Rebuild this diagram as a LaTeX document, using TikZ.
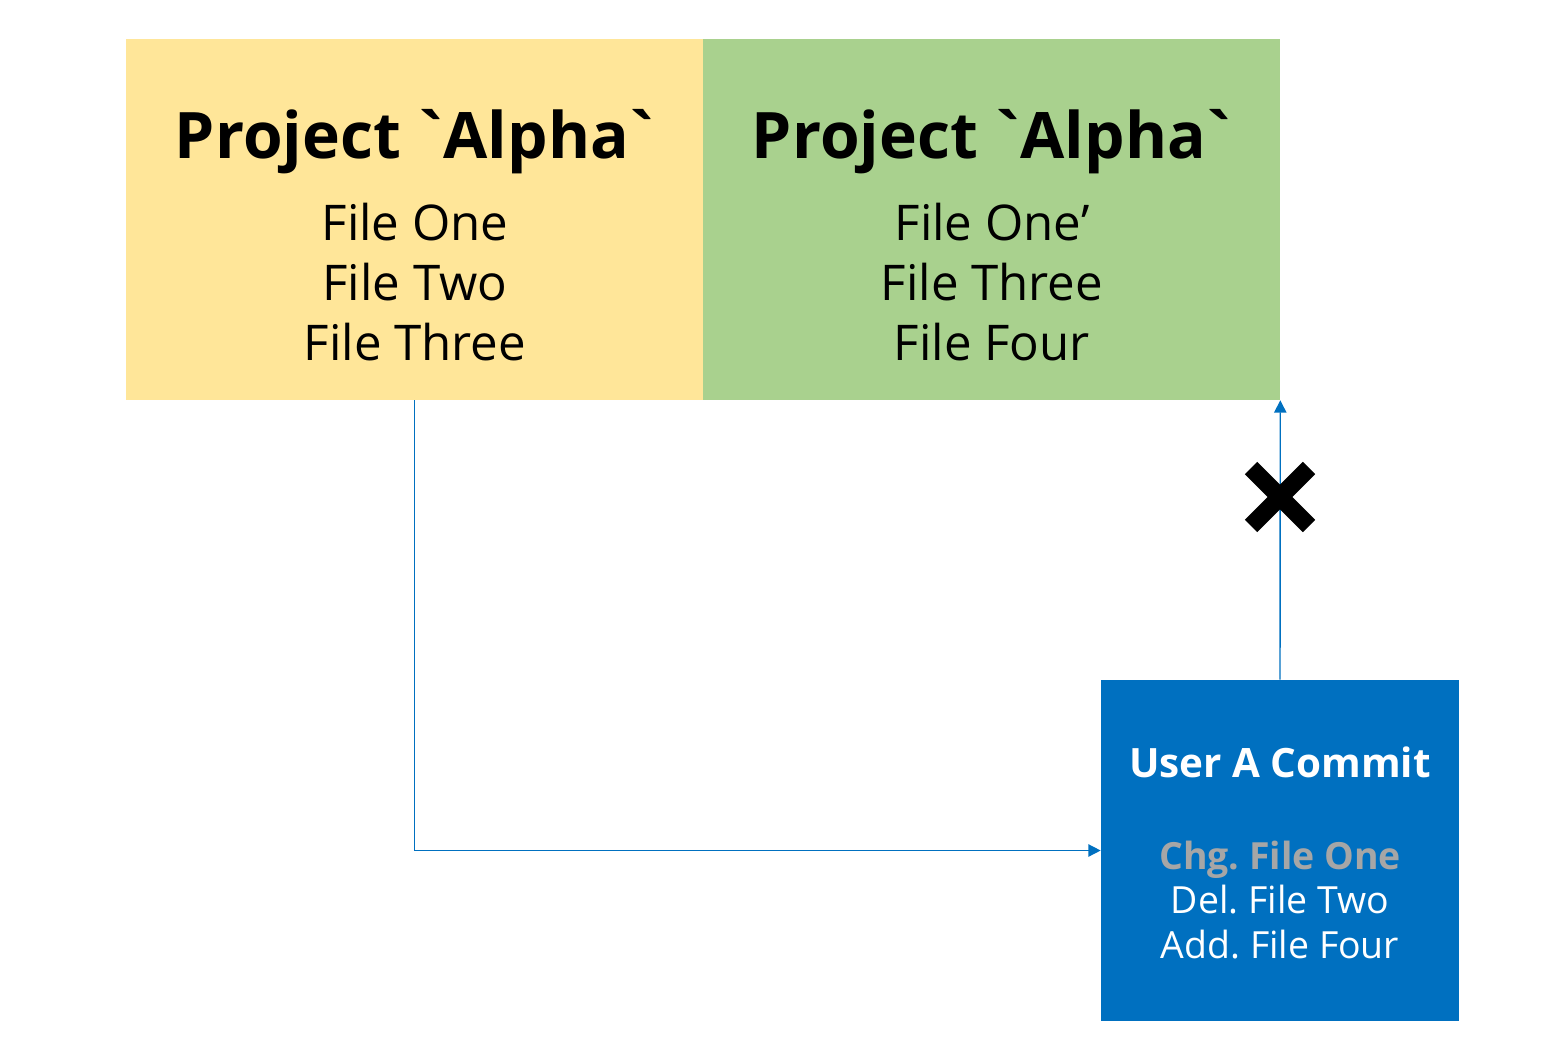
\documentclass[tikz,border=0pt]{standalone}
\usepackage{fontspec}
\setmainfont{Open Sans}[Ligatures=TeXOff]
\usetikzlibrary{arrows.meta}
\definecolor{oldyellow}{HTML}{FFE699}
\definecolor{newgreen}{HTML}{A9D18E}
\definecolor{commitblue}{HTML}{0070C0}
\definecolor{chggray}{HTML}{A6A6A6}
\newcommand{\tick}{\kern-0.1em\symbol{96}\kern-0.1em}
\frenchspacing
\tikzset{
  panel/.style={inner sep=0pt, minimum width=11.54cm, minimum height=7.22cm},
  projtitle/.style={font=\fontsize{36.5}{44}\selectfont\bfseries},
  filelist/.style={font=\fontsize{28}{34}\selectfont, align=center},
  link/.style={draw=commitblue, line width=0.8pt, -{Triangle[length=7pt,width=7pt]}}
}
\begin{document}
\begin{tikzpicture}[x=0.02cm,y=-0.02cm]
\useasboundingbox (0,0) rectangle (1559,1059);
% snapshots
\node [panel, fill=oldyellow] (oldproj) at (414.5,219.5) {};
\node [panel, fill=newgreen] (newproj) at (991.5,219.5) {};
\node [projtitle] (oldtitle) at (415,142) {Project \tick Alpha\tick};
\node [projtitle] (newtitle) at (992,142) {Project \tick Alpha\tick};
\node [filelist] (oldfiles) at (415,282) {File One\\File Two\\File Three};
\node [filelist] (newfiles) at (992,282) {File One’\\File Three\\File Four};
% commit
\node [fill=commitblue, inner sep=0pt, minimum width=7.16cm, minimum height=6.82cm] (commit) at (1280,850.5) {};
\node [text=white, font=\fontsize{23}{25}\selectfont\bfseries] (committitle) at (1280,762) {User A Commit};
\node [text=white, align=center, font=\fontsize{21.3}{25.5}\selectfont] (changes) at (1280,900)
  {\textcolor{chggray}{\bfseries Chg. File One}\\Del. File Two\\Add. File Four};
% arrows
\draw [link] (oldproj.south) |- (commit.west);
\draw [link] (commit.north) -- (newproj.south east);
\coordinate (cross) at (1280,497);
\draw [line width=10pt] ([shift={(-29,-29)}]cross) -- ([shift={(29,29)}]cross);
\draw [line width=10pt] ([shift={(-29,29)}]cross) -- ([shift={(29,-29)}]cross);
\end{tikzpicture}
\end{document}
